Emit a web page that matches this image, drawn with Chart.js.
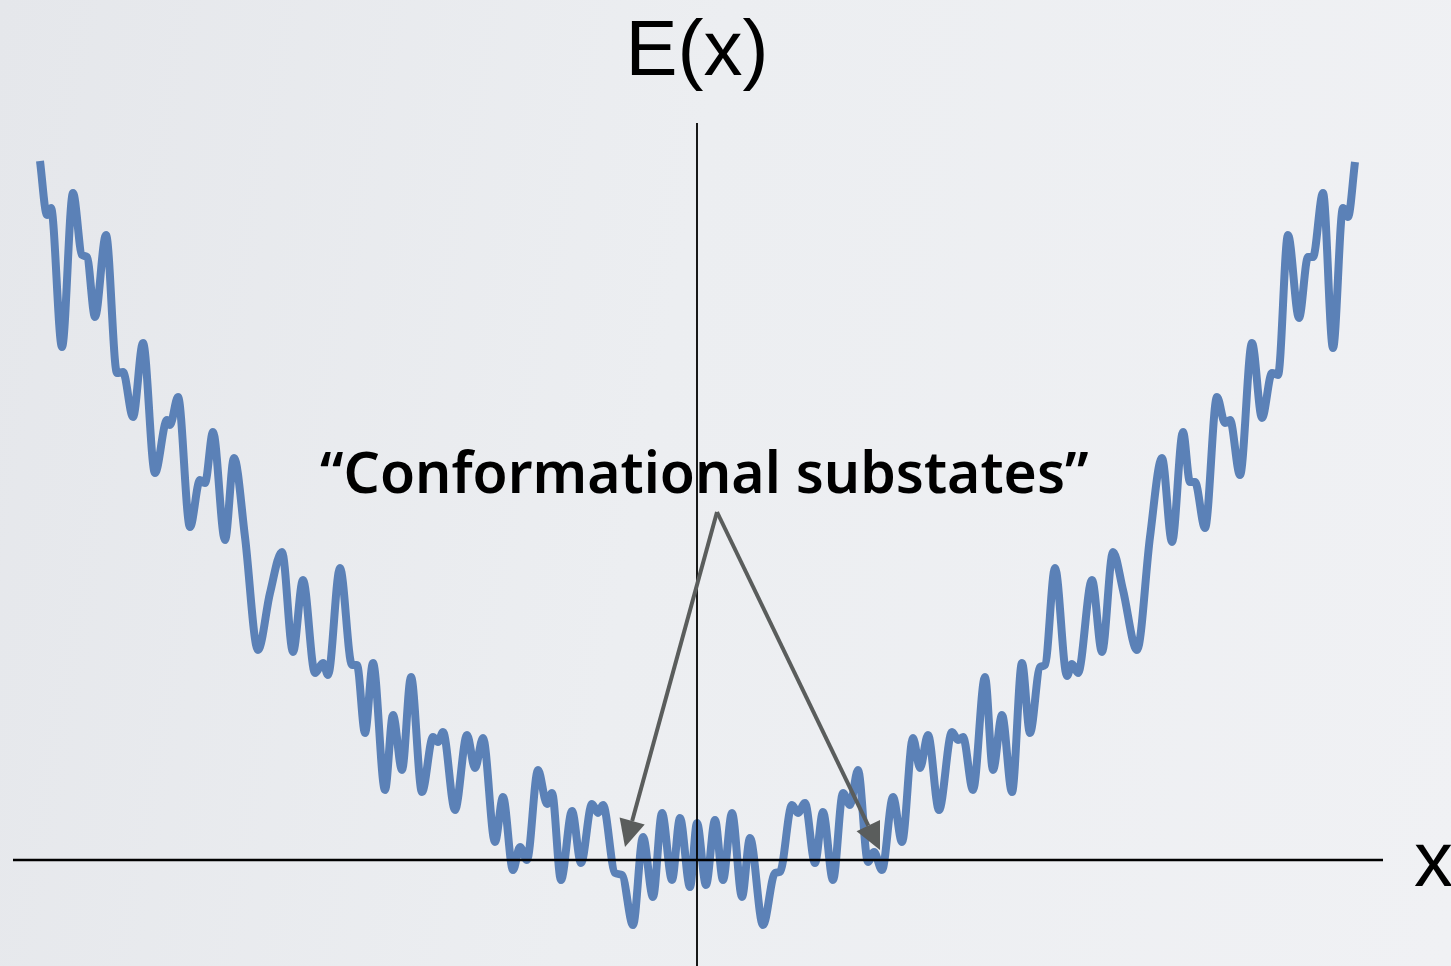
<!DOCTYPE html>
<html lang="en">
<head>
    <meta charset="UTF-8">
    <title>Conformational substates</title>
    <script src="https://cdn.jsdelivr.net/npm/chart.js"></script>
    <style>
        html, body {
            margin: 0;
            padding: 0;
            overflow: hidden;
        }
        body {
            background: linear-gradient(100deg, #e5e7eb 0%, #eceef1 45%, #f0f1f4 100%);
        }
        #wrap {
            width: 1451px;
            height: 966px;
        }
    </style>
</head>
<body>
<div id="wrap"><canvas id="energyChart"></canvas></div>

<script>
    // coordinate x (origin at the E axis) and energy E(x) (origin at the x axis)
    const xVals = [
        -657, -650, -646, -635, -624, -615, -610, -602, -591, -580, -574, -564, -554, -542, -530, -527,
        -519, -507, -497, -492, -484, -472, -463, -452, -439, -427, -415, -404, -394, -382, -374, -369,
        -357, -345, -340, -332, -324, -312, -304, -295, -286, -275, -264, -259, -254, -242, -230, -222,
        -214, -202, -194, -184, -177, -170, -159, -150, -145, -136, -125, -116, -105, -99, -94, -82,
        -75, -64, -54, -44, -35, -25, -17, -7, 0, 9, 18, 26, 35, 45, 53, 66,
        78, 83, 95, 101, 108, 118, 126, 136, 146, 153, 161, 171, 177, 185, 196, 205, 216,
        223, 231, 242, 255, 261, 266, 276, 288, 296, 305, 315, 325, 333, 343, 348, 358,
        370, 375, 381, 395, 405, 416, 426, 440, 453, 465, 475, 486, 493, 498, 508, 520,
        528, 533, 543, 555, 565, 575, 581, 591, 602, 611, 616, 626, 636, 646, 651, 658
    ];
    const eVals = [
        699, 645, 652, 513, 667, 605, 603, 543, 625, 487, 488, 443, 517, 387, 440, 435,
        463, 333, 380, 377, 428, 320, 402, 323, 210, 267, 308, 208, 280, 187, 197, 185,
        292, 195, 195, 127, 197, 70, 145, 90, 183, 68, 123, 118, 128, 50, 125, 92,
        122, 18, 63, -10, 13, 0, 90, 56, 67, -20, 49, -3, 56, 47, 55, -13,
        -15, -65, 23, -37, 47, -20, 42, -27, 37, -25, 40, -20, 47, -37, 22, -65,
        -13, -12, 55, 47, 57, -3, 48, -20, 67, 55, 90, -2, 8, -10, 63, 18, 122,
        92, 125, 50, 128, 120, 123, 70, 183, 90, 145, 68, 197, 127, 193, 195, 292,
        184, 196, 187, 280, 208, 308, 270, 210, 323, 402, 318, 428, 378, 378, 332, 463,
        437, 440, 385, 517, 442, 487, 485, 625, 542, 603, 603, 667, 512, 652, 643, 698
    ];

    const xRange = [-684, 686];
    const eRange = [-106, 737];

    // annotation arrows: common tail and the two tips, in data units
    const arrowTail = [20, 348];
    const arrowTips = [[-72, 13], [183, 10]];

    const annotations = {
        id: "annotations",
        afterDatasetsDraw(chart) {
            const ctx = chart.ctx;
            const xs = chart.scales.x;
            const ys = chart.scales.y;
            const area = chart.chartArea;
            const x0 = xs.getPixelForValue(0);
            const y0 = ys.getPixelForValue(0);

            ctx.save();
            // axes
            ctx.strokeStyle = "#000";
            ctx.lineWidth = 2.4;
            ctx.beginPath();
            ctx.moveTo(area.left, y0);
            ctx.lineTo(area.right, y0);
            ctx.stroke();
            ctx.lineWidth = 1.8;
            ctx.beginPath();
            ctx.moveTo(x0, area.top);
            ctx.lineTo(x0, area.bottom);
            ctx.stroke();

            // axis names
            ctx.fillStyle = "#000";
            ctx.font = "78px 'Liberation Sans', Arial, sans-serif";
            ctx.textAlign = "center";
            ctx.textBaseline = "alphabetic";
            ctx.fillText("E(x)", x0, 75);
            ctx.textAlign = "left";
            ctx.fillText("x", 1414, 886);

            // label, fitted to the width it has in the picture
            const label = "\u201CConformational substates\u201D";
            const family = "'Comic Sans MS', 'Noto Sans', sans-serif";
            ctx.font = "600 60px " + family;
            const w = ctx.measureText(label).width;
            const size = 60 * 768 / w;
            ctx.font = "600 " + size.toFixed(1) + "px " + family;
            ctx.fillText(label, 320, 493);

            // arrows
            const tx = xs.getPixelForValue(arrowTail[0]);
            const ty = ys.getPixelForValue(arrowTail[1]);
            ctx.strokeStyle = "#5a5d5c";
            ctx.fillStyle = "#5a5d5c";
            ctx.lineWidth = 4;
            ctx.lineCap = "butt";
            arrowTips.forEach(tip => {
                const px = xs.getPixelForValue(tip[0]);
                const py = ys.getPixelForValue(tip[1]);
                const ang = Math.atan2(py - ty, px - tx);
                const headLen = 27;
                const headHalf = 13;
                const bx = px - headLen * Math.cos(ang);
                const by = py - headLen * Math.sin(ang);
                ctx.beginPath();
                ctx.moveTo(tx, ty);
                ctx.lineTo(bx, by);
                ctx.stroke();
                ctx.beginPath();
                ctx.moveTo(px, py);
                ctx.lineTo(bx + headHalf * Math.sin(ang), by - headHalf * Math.cos(ang));
                ctx.lineTo(bx - headHalf * Math.sin(ang), by + headHalf * Math.cos(ang));
                ctx.closePath();
                ctx.fill();
            });
            ctx.restore();
        }
    };

    const ctx = document.getElementById("energyChart").getContext("2d");
    new Chart(ctx, {
        type: "line",
        data: {
            datasets: [{
                label: "E(x)",
                data: xVals.map((x, i) => ({ x: x, y: eVals[i] })),
                borderColor: "#5b81b7",
                borderWidth: 8,
                borderCapStyle: "butt",
                borderJoinStyle: "round",
                cubicInterpolationMode: "monotone",
                pointRadius: 0,
                fill: false
            }]
        },
        options: {
            responsive: true,
            maintainAspectRatio: false,
            animation: false,
            layout: {
                padding: { left: 13, right: 68, top: 123, bottom: 0 }
            },
            plugins: {
                legend: { display: false },
                tooltip: { enabled: false }
            },
            scales: {
                x: { type: "linear", min: xRange[0], max: xRange[1], display: false },
                y: { type: "linear", min: eRange[0], max: eRange[1], display: false }
            }
        },
        plugins: [annotations]
    });
</script>
</body>
</html>
